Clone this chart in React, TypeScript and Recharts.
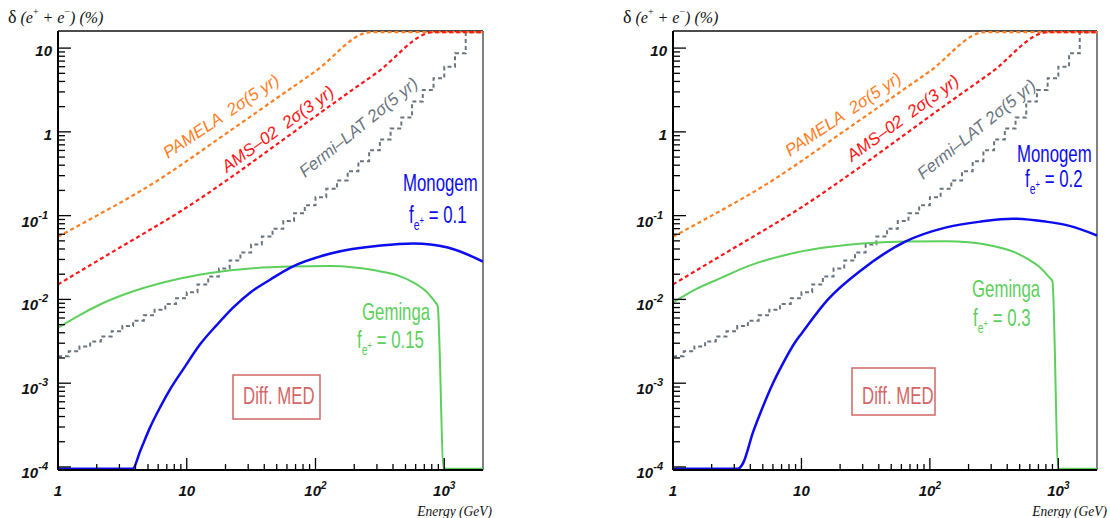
import React from "react";
import { LineChart, Line, XAxis, YAxis, ReferenceLine } from "recharts";

// energies in GeV, fluctuation amplitude in %
const pamelaE = [1, 2, 3, 6.2, 8.9, 20, 53.4, 100, 268, 2000];
const pamelaV = [0.056, 0.1, 0.141, 0.274, 0.397, 0.944, 2.71, 5.3, 15.5, 15.5];

const amsE = [1, 3, 5, 8.9, 23, 50, 131, 300, 829, 2000];
const amsV = [0.0151, 0.0413, 0.0656, 0.112, 0.3, 0.71, 2.07, 5.1, 15.5, 15.5];

// Fermi-LAT histogram, bin lower edges
const fermiE = [
  1, 1.212, 1.468, 1.778, 2.154, 2.61, 3.162, 3.831, 4.642, 5.623, 6.813, 8.254,
  10, 12.12, 14.68, 17.78, 21.54, 26.1, 31.62, 38.31, 46.42, 56.23, 68.13, 82.54,
  100, 121.2, 146.8, 177.8, 215.4, 261, 316.2, 383.1, 464.2, 562.3, 681.3, 825.4,
  1000, 1212, 1468, 1778, 2000,
];
const fermiV = [
  0.0021, 0.0024, 0.00275, 0.00315, 0.0036, 0.00417, 0.0048, 0.00557, 0.00647, 0.00755, 0.00883, 0.01035,
  0.0122, 0.0151, 0.0188, 0.0234, 0.0292, 0.0363, 0.0452, 0.0562, 0.0697, 0.0863, 0.107, 0.133,
  0.166, 0.209, 0.263, 0.339, 0.447, 0.603, 0.813, 1.1, 1.48, 2.3, 3.16, 4.37,
  6.0, 8.7, 15.5, 15.5, 15.5,
];

// left panel: Monogem f=0.1, Geminga f=0.15
const monoLE = [1, 3.8, 4.35, 5.2, 6.22, 7.44, 9.4, 12.7, 17.3, 23, 31.2, 44.7, 63.9, 131, 321, 579, 1065, 2000];
const monoLV = [9.5e-5, 9.5e-5, 1.55e-4, 2.99e-4, 5.18e-4, 8.5e-4, 1.47e-3, 2.91e-3, 5.04e-3, 8.03e-3, 0.0121, 0.0173, 0.024, 0.0353, 0.044, 0.0465, 0.0416, 0.0283];
const gemLE = [1, 1.5, 2.12, 3.84, 8.9, 31.2, 63.9, 131, 200, 321, 450, 579, 700, 785, 850, 890, 990, 2000];
const gemLV = [0.0046, 0.0066, 0.0087, 0.0125, 0.0178, 0.0234, 0.0247, 0.025, 0.024, 0.0216, 0.019, 0.0159, 0.013, 0.0109, 0.0093, 0.0083, 9.5e-5, 9.5e-5];

// right panel: Monogem f=0.2, Geminga f=0.3
const monoRE = [1, 3.2, 3.5, 4.2, 5.0, 6.0, 7.0, 8.93, 10, 16.1, 29.7, 64.3, 132, 250, 439, 794, 1200, 1945, 2000];
const monoRV = [9.5e-5, 9.5e-5, 1.1e-4, 2.6e-4, 5.2e-4, 1.0e-3, 1.6e-3, 3.08e-3, 3.9e-3, 0.01, 0.0228, 0.049, 0.072, 0.085, 0.092, 0.085, 0.076, 0.059, 0.058];
const gemRE = [1, 1.5, 2.32, 3.84, 8.93, 34.3, 64.3, 132, 200, 323, 450, 585, 700, 837, 900, 1000, 2000];
const gemRV = [0.0092, 0.0132, 0.0178, 0.025, 0.036, 0.047, 0.049, 0.0495, 0.048, 0.0428, 0.037, 0.03, 0.025, 0.0188, 0.0164, 9.5e-5, 9.5e-5];

const toPts = (es: number[], vs: number[]) => es.map((e, i) => ({ e, v: vs[i] }));

const W = 555;
const H = 518;
const TOP = 31;
const BOTTOM = 470;

const ORANGE = "#ff7f1f";
const RED = "#ff1515";
const GRAY = "#6a7580";
const BLUE = "#0c0cee";
const GREEN = "#5ccf5c";
const MED = "#d46666";

const mant = [1, 2, 3, 4, 5, 6, 7, 8, 9];
const xTicks = [1, 10, 100, 1000].flatMap((d) => mant.map((m) => m * d)).filter((v) => v < 2000);
const yTicks = [1e-4, 1e-3, 1e-2, 1e-1, 1, 10].flatMap((d) => mant.map((m) => m * d)).filter((v) => v <= 10);

const isMajor = (v: number) => Math.abs(Math.log10(v) - Math.round(Math.log10(v))) < 1e-9;

const tickFont: React.CSSProperties = {
  fontFamily: "'Liberation Sans', Arial, sans-serif",
  fontWeight: 700,
  fontStyle: "italic",
  fontSize: 15,
  fill: "#111",
};

const XTick = (props: any) => {
  const v = props.payload.value;
  const x = props.x;
  const p = Math.round(Math.log10(v));
  const major = isMajor(v);
  return (
    <g>
      <line x1={x} x2={x} y1={BOTTOM} y2={BOTTOM - (major ? 12 : 6)} stroke="#000" strokeWidth={1.3} />
      {major && (
        <text x={x} y={496} textAnchor="middle" style={tickFont}>
          {p === 0 ? "1" : "10"}
          {p > 1 && (
            <tspan dy={-7} fontSize={10}>
              {p}
            </tspan>
          )}
        </text>
      )}
    </g>
  );
};

const makeYTick = (left: number) => (props: any) => {
  const v = props.payload.value;
  const y = props.y;
  const p = Math.round(Math.log10(v));
  const major = isMajor(v);
  return (
    <g>
      <line x1={left} x2={left + (major ? 13 : 7)} y1={y} y2={y} stroke="#000" strokeWidth={1.3} />
      {major &&
        (p >= 0 ? (
          <text x={left - 6} y={y + 8} textAnchor="end" style={tickFont}>
            {p === 0 ? "1" : "10"}
          </text>
        ) : (
          <text x={left - 10} y={y + 11} textAnchor="end" style={tickFont}>
            10
            <tspan dy={-8} fontSize={11}>
              {`-${-p}`}
            </tspan>
          </text>
        ))}
    </g>
  );
};

const sans = "'Liberation Sans', Arial, sans-serif";
const serif = "'Liberation Serif', 'Times New Roman', serif";

type Pos = [number, number];
type PanelProps = {
  plotLeft: number;
  plotRight: number;
  mono: { e: number; v: number }[];
  gem: { e: number; v: number }[];
  monoFrac: string;
  gemFrac: string;
  yTitleX: number;
  pamela: Pos;
  ams: Pos;
  fermi: Pos;
  monoLabel: Pos;
  monoFracPos: Pos;
  gemLabel: Pos;
  gemFracPos: Pos;
  medBox: [number, number, number, number];
  energyEnd: number;
};

const FracLabel = ({ pos, color, value }: { pos: Pos; color: string; value: string }) => (
  <text
    transform={`translate(${pos[0]},${pos[1]}) scale(0.7,1)`}
    fontFamily={sans}
    fontSize={24}
    fill={color}
    style={{ whiteSpace: "pre" }}
  >
    f
    <tspan fontSize={15} dy={7}>
      e
    </tspan>
    <tspan fontSize={11} dy={-6}>
      +
    </tspan>
    <tspan fontSize={24} dy={-1}>
      {` = ${value}`}
    </tspan>
  </text>
);

function Panel(p: PanelProps) {
  const fermi = toPts(fermiE, fermiV);
  const pamela = toPts(pamelaE, pamelaV);
  const ams = toPts(amsE, amsV);
  return (
    <div style={{ position: "relative", width: W, height: H }}>
      <LineChart width={W} height={H} margin={{ top: TOP, right: W - p.plotRight, bottom: 0, left: 0 }}>
        <XAxis
          dataKey="e"
          type="number"
          scale="log"
          domain={[1, 2000]}
          allowDataOverflow
          ticks={xTicks}
          interval={0}
          height={H - BOTTOM}
          tick={(props: any) => <XTick {...props} />}
          tickLine={false}
          axisLine={{ stroke: "#000", strokeWidth: 2 }}
        />
        <YAxis
          type="number"
          scale="log"
          domain={[9.2e-5, 16]}
          allowDataOverflow
          ticks={yTicks}
          interval={0}
          width={p.plotLeft}
          tick={makeYTick(p.plotLeft)}
          tickLine={false}
          axisLine={{ stroke: "#000", strokeWidth: 2 }}
        />
        <ReferenceLine y={16} stroke="#111" strokeWidth={1.5} />
        <ReferenceLine x={2000} stroke="#555" strokeWidth={1.5} />
        <Line data={fermi} dataKey="v" type="stepAfter" stroke={GRAY} strokeWidth={2} strokeDasharray="4 3" dot={false} activeDot={false} isAnimationActive={false} />
        <Line data={pamela} dataKey="v" type="monotone" stroke={ORANGE} strokeWidth={2.2} strokeDasharray="4 3" dot={false} activeDot={false} isAnimationActive={false} />
        <Line data={ams} dataKey="v" type="monotone" stroke={RED} strokeWidth={2.2} strokeDasharray="4 3" dot={false} activeDot={false} isAnimationActive={false} />
        <Line data={p.gem} dataKey="v" type="monotone" stroke={GREEN} strokeWidth={2} dot={false} activeDot={false} isAnimationActive={false} />
        <Line data={p.mono} dataKey="v" type="monotone" stroke={BLUE} strokeWidth={2.5} dot={false} activeDot={false} isAnimationActive={false} />
      </LineChart>
      <svg width={W} height={H} style={{ position: "absolute", left: 0, top: 0, pointerEvents: "none" }}>
        <text x={p.yTitleX} y={23} fontFamily={serif} fontSize={16} fill="#111" style={{ whiteSpace: "pre" }}>
          <tspan fontSize={18}>δ</tspan>
          <tspan fontStyle="italic">{" (e"}</tspan>
          <tspan fontSize={10} dy={-8}>+</tspan>
          <tspan fontStyle="italic" dy={8}>{" + e"}</tspan>
          <tspan fontSize={10} dy={-8}>−</tspan>
          <tspan fontStyle="italic" dy={8}>{") (%)"}</tspan>
        </text>
        <text
          transform={`translate(${p.energyEnd},516) scale(0.9,1)`}
          textAnchor="end"
          fontFamily={serif}
          fontStyle="italic"
          fontSize={15}
          fill="#111"
        >
          Energy (GeV)
        </text>
        <text transform={`translate(${p.pamela[0]},${p.pamela[1]}) rotate(-34)`} fontFamily={sans} fontStyle="italic" fontSize={17} fill={ORANGE} style={{ whiteSpace: "pre" }}>
          {"PAMELA  2σ(5 yr)"}
        </text>
        <text transform={`translate(${p.ams[0]},${p.ams[1]}) rotate(-36)`} fontFamily={sans} fontStyle="italic" fontSize={17} fill={RED} style={{ whiteSpace: "pre" }}>
          {"AMS–02  2σ(3 yr)"}
        </text>
        <text transform={`translate(${p.fermi[0]},${p.fermi[1]}) rotate(-39)`} fontFamily={sans} fontStyle="italic" fontSize={17} fill={GRAY} style={{ whiteSpace: "pre" }}>
          {"Fermi–LAT 2σ(5 yr)"}
        </text>
        <text transform={`translate(${p.monoLabel[0]},${p.monoLabel[1]}) scale(0.7,1)`} fontFamily={sans} fontSize={24} fill={BLUE}>
          Monogem
        </text>
        <FracLabel pos={p.monoFracPos} color={BLUE} value={p.monoFrac} />
        <text transform={`translate(${p.gemLabel[0]},${p.gemLabel[1]}) scale(0.7,1)`} fontFamily={sans} fontSize={24} fill={GREEN}>
          Geminga
        </text>
        <FracLabel pos={p.gemFracPos} color={GREEN} value={p.gemFrac} />
        <rect x={p.medBox[0]} y={p.medBox[1]} width={p.medBox[2]} height={p.medBox[3]} fill="none" stroke={MED} strokeWidth={1.5} />
        <text transform={`translate(${p.medBox[0] + 10},404) scale(0.7,1)`} fontFamily={sans} fontSize={24} fill={MED}>
          Diff. MED
        </text>
      </svg>
    </div>
  );
}

export default function App() {
  return (
    <div style={{ position: "absolute", left: 0, top: 0, width: 1110, height: 518, background: "#fff" }}>
      <div style={{ position: "absolute", left: 0, top: 0 }}>
        <Panel
          plotLeft={58}
          plotRight={483}
          mono={toPts(monoLE, monoLV)}
          gem={toPts(gemLE, gemLV)}
          monoFrac="0.1"
          gemFrac="0.15"
          yTitleX={8}
          pamela={[168, 159]}
          ams={[227, 173]}
          fermi={[305, 178]}
          monoLabel={[403, 191]}
          monoFracPos={[409, 223]}
          gemLabel={[362, 320]}
          gemFracPos={[357, 348]}
          medBox={[233, 375, 87, 44]}
          energyEnd={492}
        />
      </div>
      <div style={{ position: "absolute", left: 555, top: 0 }}>
        <Panel
          plotLeft={118}
          plotRight={542}
          mono={toPts(monoRE, monoRV)}
          gem={toPts(gemRE, gemRV)}
          monoFrac="0.2"
          gemFrac="0.3"
          yTitleX={68}
          pamela={[235, 157]}
          ams={[297, 162]}
          fermi={[368, 180]}
          monoLabel={[462, 162]}
          monoFracPos={[470, 187]}
          gemLabel={[417, 297]}
          gemFracPos={[418, 326]}
          medBox={[297, 368, 83, 47]}
          energyEnd={552}
        />
      </div>
    </div>
  );
}
